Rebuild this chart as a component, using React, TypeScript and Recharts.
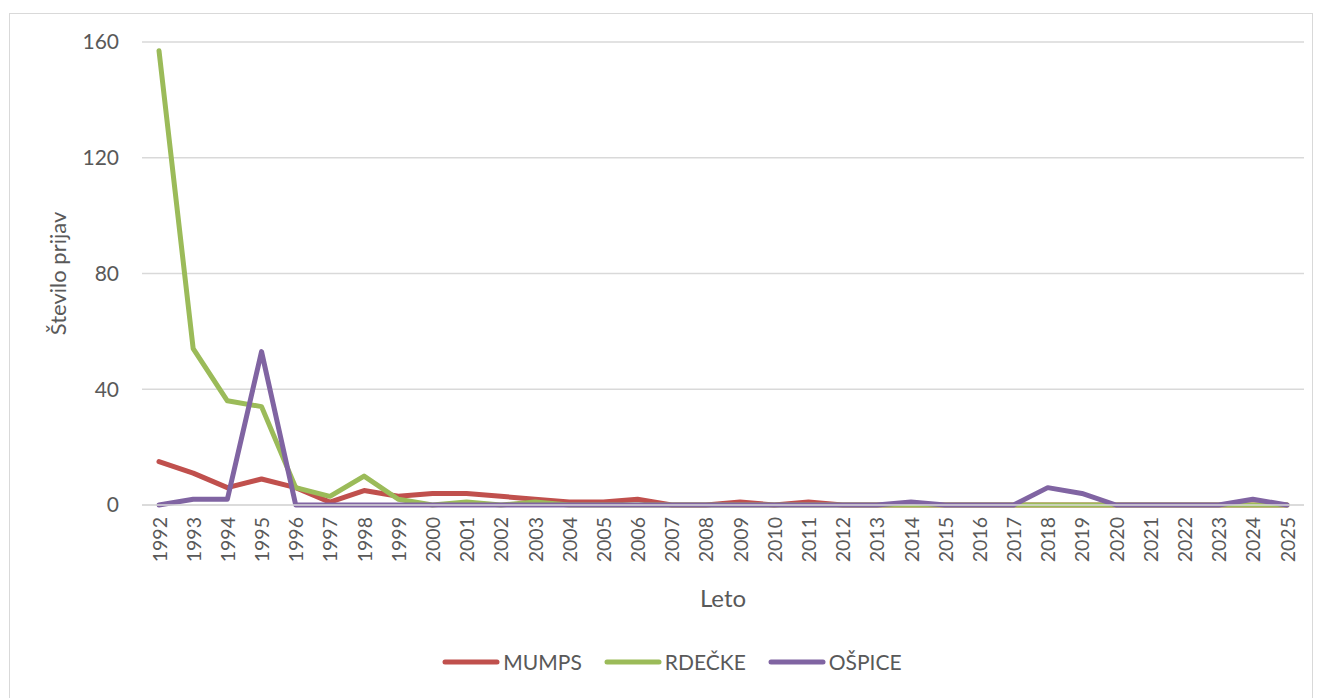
import { LineChart, Line, XAxis, YAxis, CartesianGrid, Legend } from 'recharts';

const years = [
  '1992', '1993', '1994', '1995', '1996', '1997', '1998', '1999', '2000', '2001', '2002', '2003',
  '2004', '2005', '2006', '2007', '2008', '2009', '2010', '2011', '2012', '2013', '2014', '2015',
  '2016', '2017', '2018', '2019', '2020', '2021', '2022', '2023', '2024', '2025',
];
const mumps = [15, 11, 6, 9, 6, 1, 5, 3, 4, 4, 3, 2, 1, 1, 2, 0, 0, 1, 0, 1, 0, 0, 0, 0, 0, 0, 0, 0, 0, 0, 0, 0, 0, 0];
const rdecke = [157, 54, 36, 34, 6, 3, 10, 2, 0, 1, 0, 1, 0, 0, 0, 0, 0, 0, 0, 0, 0, 0, 0, 0, 0, 0, 0, 0, 0, 0, 0, 0, 0, 0];
const ospice = [0, 2, 2, 53, 0, 0, 0, 0, 0, 0, 0, 0, 0, 0, 0, 0, 0, 0, 0, 0, 0, 0, 1, 0, 0, 0, 6, 4, 0, 0, 0, 0, 2, 0];
const yTicks = [0, 40, 80, 120, 160];

const series = [
  { key: 'MUMPS', color: '#C0504D' },
  { key: 'RDEČKE', color: '#9BBB59' },
  { key: 'OŠPICE', color: '#8064A2' },
];

const data = years.map((y, i) => ({ year: y, MUMPS: mumps[i], 'RDEČKE': rdecke[i], 'OŠPICE': ospice[i] }));

const FONT = 'Lato, "Open Sans", sans-serif';
const TEXT = '#595959';

const XTick = (props: any) => {
  const { x, y, payload } = props;
  return (
    <text
      x={x}
      y={y}
      transform={`rotate(-90 ${x} ${y})`}
      textAnchor="end"
      dominantBaseline="central"
      fill={TEXT}
      fontSize={19.5}
      fontFamily={FONT}
    >
      {payload.value}
    </text>
  );
};

const LegendBox = () => (
  <div style={{ display: 'flex', justifyContent: 'center', gap: 22, paddingLeft: 30, fontFamily: FONT, fontSize: 21, color: TEXT }}>
    {series.map(s => (
      <div key={s.key} style={{ display: 'flex', alignItems: 'center' }}>
        <svg width={58} height={10} style={{ marginRight: 3 }}>
          <line x1={3} y1={5} x2={55} y2={5} stroke={s.color} strokeWidth={5} strokeLinecap="round" />
        </svg>
        <span>{s.key}</span>
      </div>
    ))}
  </div>
);

export default function App() {
  return (
    <div
      style={{
        position: 'absolute',
        left: 9,
        top: 13,
        width: 1304,
        height: 700,
        border: '1px solid #d9d9d9',
        boxSizing: 'border-box',
        background: '#fff',
      }}
    >
      <LineChart width={1302} height={690} data={data} margin={{ top: 28, right: 8, left: 0, bottom: 25 }}>
        <CartesianGrid vertical={false} stroke="#d9d9d9" strokeWidth={1.3} />
        <XAxis
          dataKey="year"
          interval={0}
          padding={{ left: 17, right: 17 }}
          tick={<XTick />}
          tickLine={false}
          tickSize={6}
          tickMargin={6}
          height={144}
          axisLine={{ stroke: '#d9d9d9', strokeWidth: 1.3 }}
          label={(p: any) => (
            <text x={713} y={583} textAnchor="middle" dominantBaseline="central" fill={TEXT} fontSize={24} fontFamily={FONT}>
              Leto
            </text>
          )}
        />
        <YAxis
          domain={[0, 160]}
          ticks={yTicks}
          width={132}
          axisLine={false}
          tickLine={false}
          tickSize={0}
          tickMargin={23}
          tick={{ fill: TEXT, fontSize: 21, fontFamily: FONT }}
          label={(p: any) => (
            <text
              x={47}
              y={259.5}
              transform="rotate(-90 47 259.5)"
              textAnchor="middle"
              dominantBaseline="central"
              fill={TEXT}
              fontSize={22}
              fontFamily={FONT}
            >
              Število prijav
            </text>
          )}
        />
        <Legend verticalAlign="bottom" height={30} content={<LegendBox />} />
        {series.map(s => (
          <Line
            key={s.key}
            type="linear"
            dataKey={s.key}
            stroke={s.color}
            strokeWidth={5}
            strokeLinecap="round"
            strokeLinejoin="round"
            dot={false}
            activeDot={false}
            isAnimationActive={false}
          />
        ))}
      </LineChart>
    </div>
  );
}
